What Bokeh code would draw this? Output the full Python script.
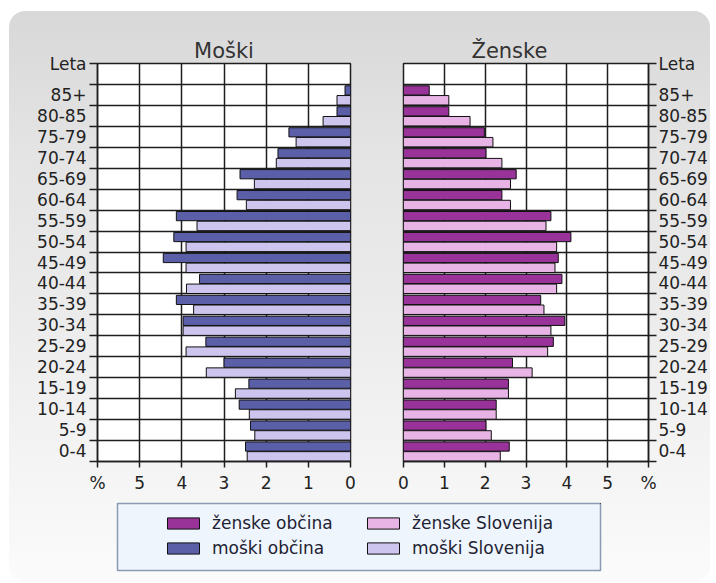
from bokeh.plotting import figure
from bokeh.layouts import row, column, Spacer
from bokeh.models import Range1d, FixedTicker, Legend, LegendItem
from bokeh.embed import file_html
from bokeh.resources import INLINE

# ---- data ----
ages = ["0-4", "5-9", "10-14", "15-19", "20-24", "25-29", "30-34", "35-39", "40-44",
        "45-49", "50-54", "55-59", "60-64", "65-69", "70-74", "75-79", "80-85", "85+"]
men_obcina = [2.49, 2.37, 2.64, 2.41, 3.00, 3.43, 3.97, 4.13, 3.58,
              4.44, 4.19, 4.13, 2.69, 2.62, 1.72, 1.46, 0.32, 0.13]
men_slovenija = [2.45, 2.27, 2.40, 2.73, 3.42, 3.90, 3.97, 3.72, 3.89,
                 3.90, 3.90, 3.64, 2.47, 2.28, 1.76, 1.29, 0.65, 0.32]
women_obcina = [2.59, 2.02, 2.27, 2.57, 2.67, 3.67, 3.95, 3.36, 3.88,
                3.79, 4.10, 3.61, 2.41, 2.76, 2.02, 1.98, 1.11, 0.63]
women_slovenija = [2.37, 2.15, 2.27, 2.57, 3.15, 3.53, 3.61, 3.44, 3.75,
                   3.71, 3.75, 3.49, 2.62, 2.62, 2.41, 2.19, 1.63, 1.11]
x_ticks = [0, 1, 2, 3, 4, 5, 6]
x_unit_label = "%"
y_unit_label = "Leta"
title_men = "Moški"
title_women = "Ženske"
legend_labels = ["ženske občina", "moški občina", "ženske Slovenija", "moški Slovenija"]

C_WO = "#99339a"
C_WS = "#e8b4e5"
C_MO = "#5a5fa8"
C_MS = "#cdc5ed"
FONT = "DejaVu Sans"
TXT = "#222222"
GRID = "#1e1e1e"

n = len(ages)
ymax = 2 * n + 2
y_dark = [2 * i + 1.43 for i in range(n)]
y_light = [2 * i + 0.49 for i in range(n)]
label_ticks = [2 * i + 1 for i in range(n)] + [ymax]
band_edges = list(range(0, ymax + 1, 2))
y_over = {2 * i + 1: ages[i] for i in range(n)}
y_over[ymax] = y_unit_label
x_over = {6: x_unit_label}

TOP_H = 484


def make_panel(side, dark, light, cd, cl, title):
    left = side == "left"
    p = figure(width=375 if left else 326, height=TOP_H,
               x_range=Range1d(6, 0) if left else Range1d(0, 6),
               y_range=Range1d(0, ymax),
               y_axis_location="left" if left else "right",
               min_border_left=88 if left else 19,
               min_border_right=34 if left else 58,
               min_border_top=52, min_border_bottom=34,
               output_backend="svg", toolbar_location=None, tools="")
    p.border_fill_alpha = 0
    p.background_fill_color = "white"
    p.outline_line_color = GRID
    p.outline_line_width = 1.5

    p.hbar(y=y_dark, left=0, right=dark, height=0.88,
           fill_color=cd, line_color="#111111", line_width=1)
    p.hbar(y=y_light, left=0, right=light, height=0.9,
           fill_color=cl, line_color="#111111", line_width=1)

    # title
    p.title.text = title
    p.title.text_font = FONT
    p.title.text_font_size = "21px"
    p.title.text_font_style = "normal"
    p.title.text_color = "#333333"
    p.title.standoff = 2
    if left:
        p.title.align = "center"
    else:
        p.title.align = "left"
        p.title.offset = 68

    # x axis
    xa = p.xaxis[0]
    xa.ticker = FixedTicker(ticks=x_ticks)
    xa.major_label_overrides = x_over
    xa.major_tick_out = 6
    xa.major_tick_in = 0
    xa.minor_tick_line_color = None
    xa.major_label_standoff = 5
    xa.major_label_text_font = FONT
    xa.major_label_text_font_size = "17px"
    xa.major_label_text_color = TXT
    xa.axis_line_color = GRID
    xa.axis_line_width = 1.5
    xa.major_tick_line_color = GRID
    xa.major_tick_line_width = 1.5

    # y axis
    ya = p.yaxis[0]
    ya.ticker = FixedTicker(ticks=label_ticks, minor_ticks=band_edges)
    ya.major_label_overrides = y_over
    ya.major_tick_out = 0
    ya.major_tick_in = 0
    ya.major_tick_line_color = None
    ya.minor_tick_out = 8
    ya.minor_tick_in = 0
    ya.minor_tick_line_color = GRID
    ya.minor_tick_line_width = 1.5
    ya.major_label_standoff = 3 if left else 2
    ya.major_label_text_font = FONT
    ya.major_label_text_font_size = "17px"
    ya.major_label_text_color = TXT
    ya.axis_line_color = GRID
    ya.axis_line_width = 1.5

    # grids
    p.xgrid.grid_line_color = GRID
    p.xgrid.grid_line_width = 1.5
    p.ygrid.ticker = FixedTicker(ticks=band_edges)
    p.ygrid.grid_line_color = GRID
    p.ygrid.grid_line_width = 1.5
    return p


pL = make_panel("left", men_obcina, men_slovenija, C_MO, C_MS, title_men)
pR = make_panel("right", women_obcina, women_slovenija, C_WO, C_WS, title_women)

# ---- legend panel ----
pG = figure(width=701, height=87, x_range=Range1d(0, 1), y_range=Range1d(0, 1),
            x_axis_location=None, y_axis_location=None,
            min_border_left=108, min_border_right=110, min_border_top=8, min_border_bottom=12,
            output_backend="svg", toolbar_location=None, tools="")
pG.grid.visible = False
pG.border_fill_alpha = 0
pG.background_fill_color = "#eef5fd"
pG.outline_line_color = "#8a9ab0"
pG.outline_line_width = 1.5

cols = [C_WO, C_MO, C_WS, C_MS]
items = []
for lab, c in zip(legend_labels, cols):
    # placeholder renderer outside the visible range: only its legend swatch is shown
    r = pG.hbar(y=[5], left=[5], right=[6], height=0.5,
                fill_color=c, line_color="#111111", line_width=1)
    items.append(LegendItem(label=lab, renderers=[r]))

leg = Legend(items=items, location=(46, 10), orientation="vertical", ncols=2,
             glyph_width=40, glyph_height=14, label_standoff=9,
             label_width=151, label_height=25, spacing=0, padding=0, margin=0,
             background_fill_alpha=0, border_line_alpha=0,
             label_text_font=FONT, label_text_font_size="17px",
             label_text_color="#222233")
pG.add_layout(leg)

panel = column(row(pL, pR), pG,
               styles={"background": "linear-gradient(to bottom, #d8d8d8 0%, #e4e4e4 25%, "
                                     "#ececec 55%, #f6f6f6 85%, #fbfbfb 100%)",
                       "border-radius": "16px"})
layout = column(Spacer(height=11), row(Spacer(width=9), panel))

open("out.html", "w").write(file_html(layout, INLINE))
